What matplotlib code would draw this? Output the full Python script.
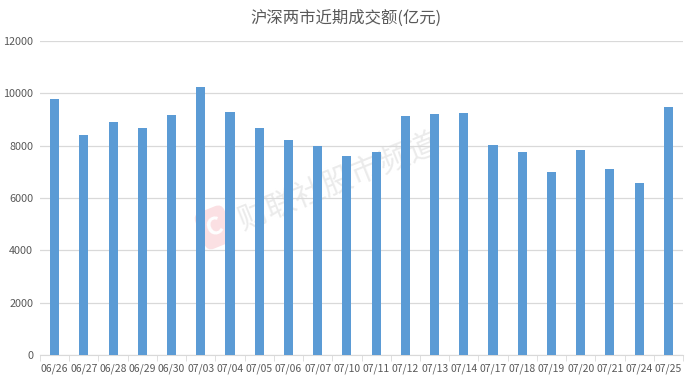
import numpy as np
import matplotlib.pyplot as plt

plt.rcParams['font.family'] = ['Noto Sans CJK SC', 'DejaVu Sans']

# data
dates = ['06/26', '06/27', '06/28', '06/29', '06/30', '07/03', '07/04', '07/05',
         '07/06', '07/07', '07/10', '07/11', '07/12', '07/13', '07/14', '07/17',
         '07/18', '07/19', '07/20', '07/21', '07/24', '07/25']
turnover = [9772, 8420, 8893, 8664, 9173, 10255, 9275, 8676, 8205, 7988, 7606,
            7746, 9122, 9211, 9237, 8026, 7771, 7006, 7848, 7109, 6586, 9490]

fig = plt.figure(figsize=(6.92, 3.79), dpi=100)
ax = fig.add_axes([0.0578, 0.0633, 0.9292, 0.8285])

x = np.arange(len(dates))
ax.bar(x, turnover, width=0.31, color='#5b9bd5', zorder=3)

ax.set_xlim(-0.5, len(dates) - 0.5)
ax.set_ylim(0, 12000)
ax.set_yticks(range(0, 12001, 2000))
ax.set_xticks(x)
ax.set_xticklabels(dates)
ax.set_xticks(np.arange(-0.5, len(dates), 1), minor=True)

ax.grid(axis='y', color='#d9d9d9', linewidth=0.9, zorder=0)
for s in ['left', 'right', 'top']:
    ax.spines[s].set_visible(False)
ax.spines['bottom'].set_color('#d9d9d9')
ax.tick_params(axis='x', which='major', length=0, pad=6, labelsize=7.5, labelcolor='#595959')
ax.tick_params(axis='x', which='minor', length=4, color='#d9d9d9')
ax.tick_params(axis='y', length=0, pad=5, labelsize=7.8, labelcolor='#595959')

fig.suptitle('沪深两市近期成交额(亿元)', y=0.975, fontsize=11.8, color='#595959')

# faint watermark behind the bars
ax.text(0.49, 0.52, '财联社股市频道', transform=fig.transFigure, fontsize=22,
        color='#ebebeb', rotation=22, ha='center', va='center', zorder=1)
ax.text(0.31, 0.40, 'C', transform=fig.transFigure, fontsize=18, fontweight='bold',
        color='white', rotation=22, ha='center', va='center', zorder=1,
        bbox=dict(boxstyle='round,pad=0.3', fc='#fbe0e3', ec='none'))

plt.savefig('out.png', dpi=100)
